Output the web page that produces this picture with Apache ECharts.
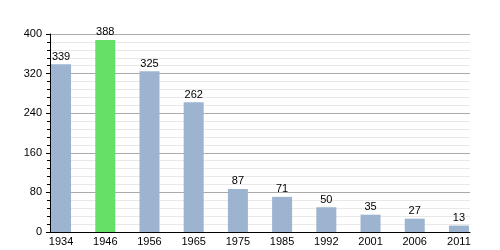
<!DOCTYPE html>
<html><head><meta charset="utf-8">
<script src="https://cdn.jsdelivr.net/npm/echarts@6/dist/echarts.min.js"></script>
<style>html,body{margin:0;padding:0;background:#fff}#c{width:500px;height:250px}</style>
</head><body><div id="c"></div>
<script>
var categories = ['1934','1946','1956','1965','1975','1985','1992','2001','2006','2011'];
var values = [339, 388, 325, 262, 87, 71, 50, 35, 27, 13];
var highlightIndex = 1;
var yTicks = [0, 80, 160, 240, 320, 400];

var chart = echarts.init(document.getElementById('c'), null, {renderer:'canvas'});
var font = 'Liberation Sans, Arial, sans-serif';
chart.setOption({
  animation: false,
  grid: {left: 50, right: 30, top: 34, bottom: 18},
  xAxis: {
    type: 'value', min: -0.25, max: categories.length - 0.75,
    splitLine: {show: false},
    axisLine: {show: true, onZero: false, lineStyle: {color: '#000', width: 1}},
    axisTick: {show: false},
    axisLabel: {
      customValues: categories.map(function(c, i){ return i; }),
      formatter: function(v){ return categories[Math.round(v)]; },
      color: '#000', fontSize: 11, fontFamily: font, margin: 4
    }
  },
  yAxis: {
    type: 'value', min: yTicks[0], max: yTicks[yTicks.length-1], interval: 80,
    axisLine: {show: true, onZero: false, lineStyle: {color: '#000', width: 1}},
    axisTick: {show: true, inside: false, length: 4, lineStyle: {color: '#000'}},
    minorTick: {show: true, splitNumber: 5, length: 3, lineStyle: {color: '#000'}},
    splitLine: {show: true, lineStyle: {color: '#aaaaaa', width: 1}},
    minorSplitLine: {show: true, lineStyle: {color: '#e8e8e8', width: 1}},
    axisLabel: {color: '#000', fontSize: 11, fontFamily: font, margin: 8}
  },
  series: [{
    type: 'bar',
    barWidth: 20,
    data: values.map(function(v, i){
      return {value: [i, v], itemStyle: {color: i === highlightIndex ? '#66e066' : '#9cb4cf'}};
    }),
    label: {show: true, position: 'top', distance: 2, color: '#000', fontSize: 11, fontFamily: font,
      formatter: function(p){ return p.value[1]; }}
  }]
});
</script></body></html>
